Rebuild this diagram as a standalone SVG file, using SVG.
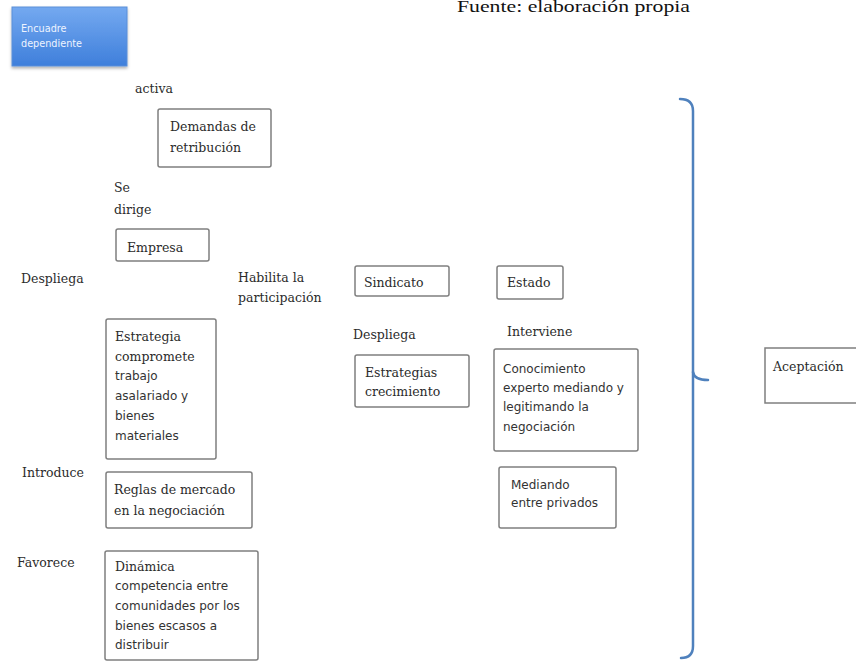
<svg xmlns="http://www.w3.org/2000/svg" width="856" height="662" viewBox="0 0 856 662">
<defs>
<linearGradient id="blueGrad" x1="0" y1="0" x2="0" y2="1">
<stop offset="0" stop-color="#74a9f0"/>
<stop offset="1" stop-color="#3f7fdb"/>
</linearGradient>
<filter id="shadow" x="-10%" y="-10%" width="130%" height="140%">
<feDropShadow dx="0" dy="2" stdDeviation="1.5" flood-color="#000" flood-opacity="0.3"/>
</filter>
</defs>
<style>
.box{fill:#fff;stroke:#7f7f7f;stroke-width:1.5}
.sf{font-family:"DejaVu Serif","Liberation Serif",serif;font-size:12.5px;fill:#2b2b2b}
.ss{font-family:"DejaVu Sans","Liberation Sans",sans-serif;font-size:12px;fill:#333}
.brace{fill:none;stroke:#4f81bd;stroke-width:2.5;stroke-linecap:round}
</style>
<rect width="856" height="662" fill="#fff"/>
<text x="457" y="12" font-family="'Liberation Serif',serif" font-size="17" fill="#111" textLength="233" lengthAdjust="spacingAndGlyphs">Fuente: elaboración propia</text>

<g id="encuadre">
<rect x="12" y="7" width="115" height="59" fill="url(#blueGrad)" stroke="#5a8fd8" stroke-width="1" filter="url(#shadow)"/>
<text x="21" y="32" font-family="'DejaVu Sans',sans-serif" font-size="9.7" fill="#eef4ff">Encuadre</text>
<text x="21" y="47" font-family="'DejaVu Sans',sans-serif" font-size="9.7" fill="#eef4ff">dependiente</text>
</g>

<g id="lbl-activa"><text class="sf" x="135" y="93">activa</text></g>

<g id="demandas">
<rect class="box" x="158" y="109" width="113" height="58" rx="2"/>
<text class="sf" x="170" y="131">Demandas de</text>
<text class="sf" x="170" y="152">retribución</text>
</g>

<g id="lbl-sedirige">
<text class="sf" x="114" y="192">Se</text>
<text class="sf" x="114" y="214">dirige</text>
</g>

<g id="empresa">
<rect class="box" x="116" y="229" width="93" height="32" rx="2"/>
<text class="sf" x="127" y="252">Empresa</text>
</g>

<g id="lbl-despliega1"><text class="sf" x="21" y="283">Despliega</text></g>

<g id="lbl-habilita">
<text class="sf" x="238" y="282">Habilita la</text>
<text class="sf" x="238" y="302">participación</text>
</g>

<g id="sindicato">
<rect class="box" x="355" y="266" width="94" height="30" rx="2"/>
<text class="sf" x="364" y="287">Sindicato</text>
</g>

<g id="estado">
<rect class="box" x="497" y="266" width="66" height="33" rx="2"/>
<text class="sf" x="507" y="287">Estado</text>
</g>

<g id="lbl-despliega2"><text class="sf" x="353" y="339">Despliega</text></g>
<g id="lbl-interviene"><text class="sf" x="507" y="336">Interviene</text></g>

<g id="estrategias-crecimiento">
<rect class="box" x="355" y="355" width="114" height="52" rx="2"/>
<text class="sf" x="365" y="377">Estrategias</text>
<text class="sf" x="365" y="396">crecimiento</text>
</g>

<g id="conocimiento">
<rect class="box" x="494" y="349" width="144" height="102" rx="2"/>
<text class="ss" x="503" y="373">Conocimiento</text>
<text class="ss" x="503" y="392">experto mediando y</text>
<text class="ss" x="503" y="411">legitimando la</text>
<text class="ss" x="503" y="431">negociación</text>
</g>

<g id="mediando">
<rect class="box" x="499" y="467" width="117" height="61" rx="2"/>
<text class="ss" x="511" y="489">Mediando</text>
<text class="ss" x="511" y="507">entre privados</text>
</g>

<g id="estrategia">
<rect class="box" x="106" y="319" width="110" height="140" rx="2"/>
<text class="sf" x="115" y="341">Estrategia</text>
<text class="sf" x="115" y="361">compromete</text>
<text class="ss" x="115" y="380">trabajo</text>
<text class="ss" x="115" y="400">asalariado y</text>
<text class="ss" x="115" y="420">bienes</text>
<text class="ss" x="115" y="440">materiales</text>
</g>

<g id="lbl-introduce"><text class="sf" x="22" y="477">Introduce</text></g>

<g id="reglas">
<rect class="box" x="106" y="472" width="146" height="56" rx="2"/>
<text class="sf" x="114" y="494">Reglas de mercado</text>
<text class="sf" x="114" y="515">en la negociación</text>
</g>

<g id="lbl-favorece"><text class="sf" x="17" y="567">Favorece</text></g>

<g id="dinamica">
<rect class="box" x="105" y="551" width="153" height="109" rx="2"/>
<text class="sf" x="115" y="571">Dinámica</text>
<text class="ss" x="115" y="590">competencia entre</text>
<text class="ss" x="115" y="610">comunidades por los</text>
<text class="ss" x="115" y="630">bienes escasos a</text>
<text class="ss" x="115" y="649">distribuir</text>
</g>

<g id="aceptacion">
<rect class="box" x="765" y="348" width="100" height="55"/>
<text class="sf" x="773" y="371">Aceptación</text>
</g>

<g id="connectors">
<path class="brace" d="M680,99 Q693,99 693,111 L693,646 Q693,658 681,658"/>
<path class="brace" d="M693,372 Q694,380 708,380"/>
</g>
</svg>
